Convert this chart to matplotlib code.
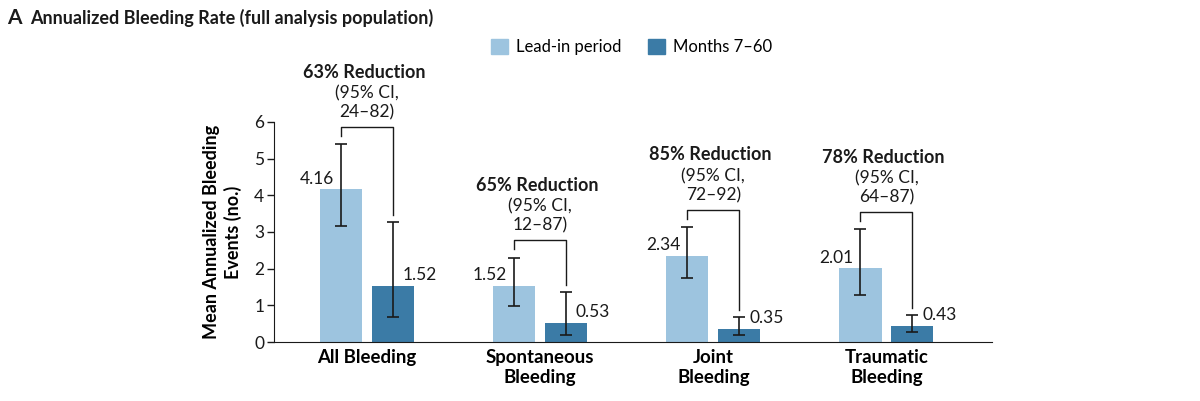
import matplotlib
matplotlib.use("Agg")
import matplotlib.pyplot as plt
from matplotlib.patches import Patch
import numpy as np

plt.rcParams['font.family'] = ['Lato', 'DejaVu Sans']

# data
categories = ["All Bleeding", "Spontaneous\nBleeding", "Joint\nBleeding", "Traumatic\nBleeding"]
lead_in = [4.16, 1.52, 2.34, 2.01]
lead_in_lo = [3.17, 0.98, 1.74, 1.28]
lead_in_hi = [5.40, 2.29, 3.13, 3.08]
months = [1.52, 0.53, 0.35, 0.43]
months_lo = [0.68, 0.19, 0.19, 0.27]
months_hi = [3.27, 1.36, 0.68, 0.74]
reductions = ["63% Reduction", "65% Reduction", "85% Reduction", "78% Reduction"]
ci_text = ["24\u201382)", "12\u201387)", "72\u201392)", "64\u201387)"]
bracket_y = [5.86, 2.78, 3.60, 3.54]

light = "#9dc4df"
dark = "#3b7ba6"
ink = "#1a1a1a"

fig = plt.figure(figsize=(12, 4.01), dpi=100)
ax = fig.add_axes([0.2283, 0.1471, 0.8267 - 0.2283, 0.6958 - 0.1471])

x = np.arange(len(categories))
off = 0.15
w = 0.243

ax.bar(x - off, lead_in, w, color=light)
ax.bar(x + off, months, w, color=dark)

lerr = [np.array(lead_in) - np.array(lead_in_lo), np.array(lead_in_hi) - np.array(lead_in)]
merr = [np.array(months) - np.array(months_lo), np.array(months_hi) - np.array(months)]
ax.errorbar(x - off, lead_in, yerr=lerr, fmt='none', ecolor=ink, elinewidth=1.2, capsize=4.5, capthick=1.2)
ax.errorbar(x + off, months, yerr=merr, fmt='none', ecolor=ink, elinewidth=1.2, capsize=4.5, capthick=1.2)

for i in range(len(categories)):
    # value labels
    ax.annotate(f"{lead_in[i]:.2f}", (x[i] - off, lead_in[i]), xytext=(-5, 2),
                textcoords='offset points', ha='right', va='bottom', fontsize=12.5, color=ink)
    ax.annotate(f"{months[i]:.2f}", (x[i] + off, months[i]), xytext=(7, 2),
                textcoords='offset points', ha='left', va='bottom', fontsize=12.5, color=ink)
    # bracket
    by = bracket_y[i]
    ax.plot([x[i] - off, x[i] - off, x[i] + off, x[i] + off],
            [by - 0.24, by, by, months_hi[i] + 0.2], color=ink, lw=1.0)
    ax.annotate(ci_text[i], (x[i], by), xytext=(0, 10.8), textcoords='offset points',
                ha='center', va='center', fontsize=12.5, color=ink)
    ax.annotate("(95% CI,", (x[i], by), xytext=(0, 24.5), textcoords='offset points',
                ha='center', va='center', fontsize=12.5, color=ink)
    ax.annotate(reductions[i], (x[i], by), xytext=(-2, 39.6), textcoords='offset points',
                ha='center', va='center', fontsize=13, fontweight='bold', color=ink)

ax.set_xlim(-0.538, 3.61)
ax.set_ylim(0, 6)
ax.set_yticks(range(7))
ax.set_xticks(x)
ax.set_xticklabels(categories, fontweight='bold', fontsize=13.4, linespacing=1.25)
ax.tick_params(axis='x', length=0, pad=5)
ax.tick_params(axis='y', length=5, width=1, labelsize=12.5, pad=2, colors=ink)
ax.spines['top'].set_visible(False)
ax.spines['right'].set_visible(False)
ax.spines['left'].set_color(ink)
ax.spines['bottom'].set_color(ink)
ax.set_ylabel("Mean Annualized Bleeding\nEvents (no.)", fontweight='bold', fontsize=13, labelpad=9)

handles = [Patch(color=light, label="Lead-in period"), Patch(color=dark, label="Months 7\u201360")]
fig.legend(handles=handles, loc='center', bbox_to_anchor=(0.5265, 0.883), ncol=2, frameon=False,
           fontsize=12, handlelength=1.0, handleheight=1.0, columnspacing=1.6, handletextpad=0.5)

fig.text(0.006, 0.955, "A", fontsize=15, fontweight='bold', va='center', color=ink)
fig.text(0.025, 0.955, "Annualized Bleeding Rate (full analysis population)", fontsize=13,
         fontweight='bold', va='center', color=ink)

fig.savefig("out.png", dpi=100)
